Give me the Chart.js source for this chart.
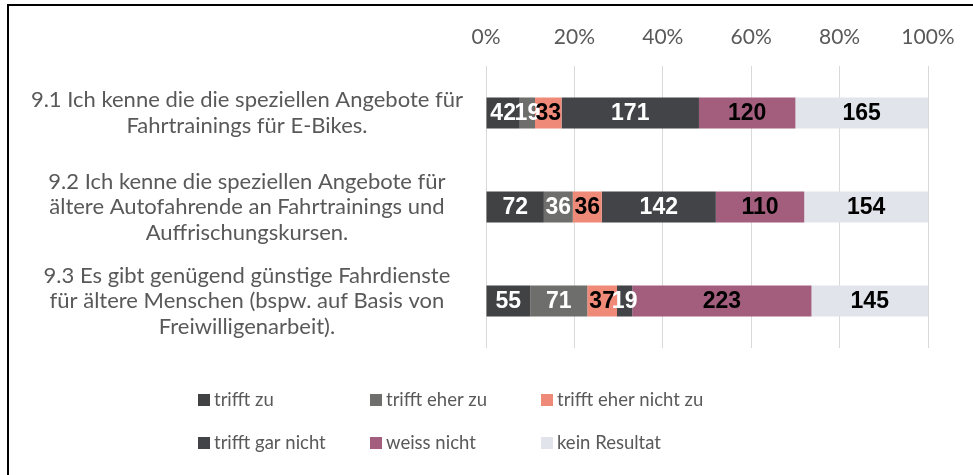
<!DOCTYPE html>
<html>
<head>
<meta charset="utf-8">
<script src="https://cdn.jsdelivr.net/npm/chart.js@4.4.1/dist/chart.umd.min.js"></script>
<style>
  html, body { margin: 0; padding: 0; background: #fff; overflow: hidden; }
  #wrap { position: relative; width: 973px; height: 475px; }
  #c { display: block; }
  #frame { position: absolute; left: 7px; top: 4px; width: 1100px; height: 600px;
           border: 2px solid #000; box-sizing: border-box; pointer-events: none; }
</style>
</head>
<body>
<div id="wrap">
  <canvas id="c" width="973" height="475"></canvas>
  <div id="frame"></div>
</div>
<script>
// --- data ---
const categories = [
  ['9.1 Ich kenne die die speziellen Angebote für', 'Fahrtrainings für E-Bikes.'],
  ['9.2 Ich kenne die speziellen Angebote für', 'ältere Autofahrende an Fahrtrainings und', 'Auffrischungskursen.'],
  ['9.3 Es gibt genügend günstige Fahrdienste', 'für ältere Menschen (bspw. auf Basis von', 'Freiwilligenarbeit).'],
];
const seriesNames = ['trifft zu', 'trifft eher zu', 'trifft eher nicht zu', 'trifft gar nicht', 'weiss nicht', 'kein Resultat'];
const trifftZu         = [42, 72, 55];
const trifftEherZu     = [19, 36, 71];
const trifftEherNicht  = [33, 36, 37];
const trifftGarNicht   = [171, 142, 19];
const weissNicht       = [120, 110, 223];
const keinResultat     = [165, 154, 145];
const xTicks = [0, 20, 40, 60, 80, 100];

const seriesValues = [trifftZu, trifftEherZu, trifftEherNicht, trifftGarNicht, weissNicht, keinResultat];
const colors      = ['#414244', '#6e6e6c', '#ef8a78', '#434447', '#a35e7d', '#e1e4ea'];
const labelColors = ['#ffffff', '#ffffff', '#000000', '#ffffff', '#000000', '#000000'];

const FONT = 'Lato, "Open Sans", sans-serif';
const TEXT = '#595959';

// row totals for the 100% stacking
const totals = categories.map((_, j) => seriesValues.reduce((s, arr) => s + arr[j], 0));

const datasets = seriesValues.map((vals, i) => ({
  label: seriesNames[i],
  counts: vals,
  data: vals.map((v, j) => v / totals[j] * 100),
  backgroundColor: colors[i],
  borderWidth: 0,
  categoryPercentage: 1,
  barPercentage: 0.33,
}));

// count labels in the middle of every segment
const segmentLabels = {
  id: 'segmentLabels',
  afterDatasetsDraw(chart) {
    const ctx = chart.ctx;
    ctx.save();
    ctx.font = 'bold 23px "Liberation Sans", Arial, sans-serif';
    ctx.textAlign = 'center';
    ctx.textBaseline = 'middle';
    chart.data.datasets.forEach((ds, i) => {
      chart.getDatasetMeta(i).data.forEach((bar, j) => {
        const p = bar.getProps(['x', 'y', 'base'], true);
        ctx.fillStyle = labelColors[i];
        ctx.fillText(String(ds.counts[j]), (p.x + p.base) / 2, p.y + 1);
      });
    });
    ctx.restore();
  },
};

// two-row, three-column legend under the plot
const gridLegend = {
  id: 'gridLegend',
  afterDraw(chart) {
    const ctx = chart.ctx;
    const top = chart.chartArea.bottom;
    const cols = [198, 370, 541];
    const rows = [top + 52, top + 95];
    ctx.save();
    ctx.font = '18.5px ' + FONT;
    ctx.textBaseline = 'middle';
    ctx.textAlign = 'left';
    chart.data.datasets.forEach((ds, i) => {
      const x = cols[i % 3];
      const y = rows[Math.floor(i / 3)];
      ctx.fillStyle = ds.backgroundColor;
      ctx.fillRect(x, y - 6, 12, 12);
      ctx.fillStyle = TEXT;
      ctx.fillText(ds.label, x + 16, y);
    });
    ctx.restore();
  },
};

new Chart(document.getElementById('c'), {
  type: 'bar',
  data: { labels: categories, datasets },
  options: {
    indexAxis: 'y',
    responsive: false,
    animation: false,
    layout: { padding: { left: 0, right: 45, top: 0, bottom: 127 } },
    plugins: { legend: { display: false }, tooltip: { enabled: false } },
    scales: {
      x: {
        position: 'top',
        stacked: true,
        min: 0,
        max: 100,
        afterBuildTicks: (s) => { s.ticks = xTicks.map((v) => ({ value: v })); },
        ticks: { callback: (v) => v + '%', color: TEXT, font: { family: FONT, size: 21 }, padding: 16 },
        grid: { color: '#d9d9d9', drawTicks: false },
        border: { display: false },
        afterFit: (s) => { s.height = 66; },
      },
      y: {
        stacked: true,
        ticks: { crossAlign: 'center', color: TEXT, font: { family: FONT, size: 22, lineHeight: 1.16 }, padding: 23 },
        grid: { display: false, drawTicks: false },
        border: { display: false },
        afterFit: (s) => { s.width = 486; },
      },
    },
  },
  plugins: [segmentLabels, gridLegend],
});
</script>
</body>
</html>
